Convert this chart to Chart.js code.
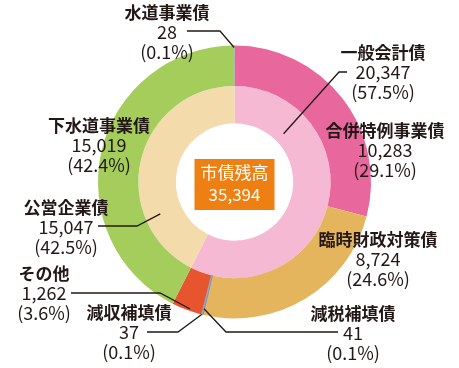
<!DOCTYPE html>
<html>
<head>
<meta charset="utf-8">
<script src="https://cdn.jsdelivr.net/npm/chart.js@4.4.0/dist/chart.umd.min.js"></script>
<style>
  html, body { margin: 0; padding: 0; background: #ffffff; }
  #wrap { width: 459px; height: 368px; }
</style>
</head>
<body>
<div id="wrap"><canvas id="c" width="459" height="368"></canvas></div>
<script>
// ---- data ----
const outerLabels = ['合併特例事業債', '臨時財政対策債', '減税補填債', '減収補填債', 'その他', '下水道事業債', '水道事業債'];
const outerValues = [10283, 8724, 41, 37, 1262, 15019, 28];
const outerShares = ['29.1%', '24.6%', '0.1%', '0.1%', '3.6%', '42.4%', '0.1%'];
const innerLabels = ['一般会計債', '公営企業債'];
const innerValues = [20347, 15047];
const innerShares = ['57.5%', '42.5%'];
const totalLabel = '市債残高';
const totalValue = 35394;

// ---- styles ----
const outerColors = ['#E8689D', '#E5B55E', '#6F8FC8', '#9AA7BD', '#E7552F', '#A5CD5C', '#B5B5B5'];
const outerBorder = [0, 0, 1, 1, 0, 0, 1];
const innerColors = ['#F5B9D3', '#F3DBAC'];
const textColor = '#231815';
const FONT = '"Noto Sans CJK JP", "Noto Sans", sans-serif';

// label layout: text centre x, first line y, optional leader line (start, elbow, slice-relative end)
const labelLayout = [
  { ds: 0, i: 6, x: 167, y: 13, line: { start: [187, 31], elbow: [220, 31], t: 0.5, r: 0.95 } },
  { ds: 1, i: 0, x: 383, y: 53, line: { start: [347, 72], elbow: [339, 72], t: 0.22, r: 0.27 } },
  { ds: 0, i: 0, x: 385, y: 131 },
  { ds: 0, i: 1, x: 378, y: 240 },
  { ds: 0, i: 2, x: 353, y: 314, line: { start: [338, 332], elbow: [226, 332], t: 0.5, r: 0.85 } },
  { ds: 0, i: 3, x: 129, y: 313, line: { start: [147, 332], elbow: [178, 332], t: 0.5, r: 1.0 } },
  { ds: 0, i: 4, x: 44, y: 274, line: { start: [71, 293], elbow: [160, 293], t: 0.4, r: 0.95 } },
  { ds: 0, i: 5, x: 99, y: 126 },
  { ds: 1, i: 1, x: 66, y: 208, line: { start: [98, 226], elbow: [137, 226], t: 0.26, r: 0.59 } }
];

const fmt = v => v.toLocaleString('en-US');

const labelPlugin = {
  id: 'labels',
  afterDatasetsDraw(chart) {
    const ctx = chart.ctx;
    ctx.save();
    // leader lines
    ctx.strokeStyle = textColor;
    ctx.lineWidth = 1.3;
    labelLayout.forEach(L => {
      if (!L.line) return;
      const arc = chart.getDatasetMeta(L.ds).data[L.i];
      const p = arc.getProps(['x', 'y', 'startAngle', 'endAngle', 'innerRadius', 'outerRadius'], true);
      const a = p.startAngle + (p.endAngle - p.startAngle) * L.line.t;
      const rr = p.innerRadius + (p.outerRadius - p.innerRadius) * L.line.r;
      const ex = p.x + Math.cos(a) * rr, ey = p.y + Math.sin(a) * rr;
      ctx.beginPath();
      ctx.moveTo(L.line.start[0], L.line.start[1]);
      ctx.lineTo(L.line.elbow[0], L.line.elbow[1]);
      ctx.lineTo(ex, ey);
      ctx.stroke();
    });
    // texts
    ctx.fillStyle = textColor;
    ctx.textAlign = 'center';
    ctx.textBaseline = 'middle';
    labelLayout.forEach(L => {
      const name = L.ds === 0 ? outerLabels[L.i] : innerLabels[L.i];
      const val = L.ds === 0 ? outerValues[L.i] : innerValues[L.i];
      const sh = L.ds === 0 ? outerShares[L.i] : innerShares[L.i];
      ctx.font = 'bold 17px ' + FONT;
      ctx.fillText(name, L.x, L.y);
      ctx.font = '18px ' + FONT;
      ctx.fillText(fmt(val), L.x, L.y + 19);
      ctx.fillText('(' + sh + ')', L.x, L.y + 39);
    });
    // centre box
    const m = chart.getDatasetMeta(1).data[0];
    const cx = m.x, cy = m.y;
    ctx.fillStyle = '#EE7F12';
    ctx.fillRect(cx - 40, cy - 23, 80, 51);
    ctx.fillStyle = '#ffffff';
    ctx.font = '17px ' + FONT;
    ctx.fillText(totalLabel, cx, cy - 9);
    ctx.fillText(fmt(totalValue), cx, cy + 13);
    ctx.restore();
  }
};

new Chart(document.getElementById('c'), {
  type: 'doughnut',
  data: {
    labels: outerLabels,
    datasets: [
      {
        data: outerValues,
        backgroundColor: outerColors,
        borderColor: outerColors,
        borderWidth: outerBorder,
        weight: 41
      },
      {
        data: innerValues,
        backgroundColor: innerColors,
        borderWidth: 0,
        weight: 38
      }
    ]
  },
  options: {
    responsive: false,
    animation: false,
    devicePixelRatio: 1,
    cutout: '43%',
    layout: { padding: { left: 97, right: 87, top: 45, bottom: 49 } },
    plugins: { legend: { display: false }, tooltip: { enabled: false } }
  },
  plugins: [labelPlugin]
});
</script>
</body>
</html>
